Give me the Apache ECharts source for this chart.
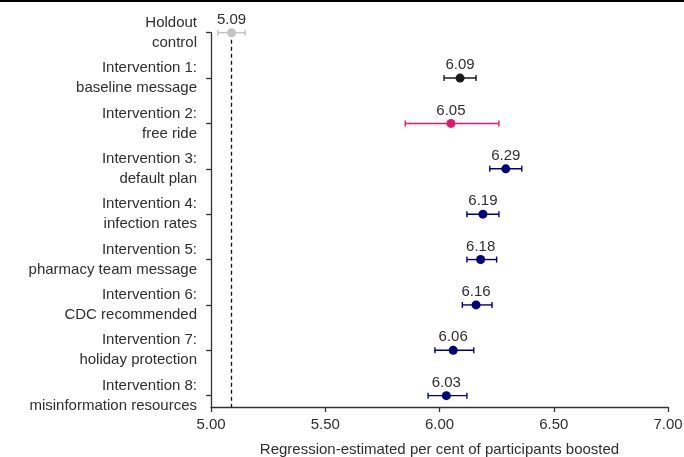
<!DOCTYPE html>
<html>
<head>
<meta charset="utf-8">
<script src="https://cdn.jsdelivr.net/npm/echarts@6/dist/echarts.min.js"></script>
<style>
html,body{margin:0;padding:0;background:#fff;}
#c{width:684px;height:457px;}
</style>
</head>
<body>
<div id="c"></div>
<script>
const categories = [
  'Holdout\ncontrol',
  'Intervention 1:\nbaseline message',
  'Intervention 2:\nfree ride',
  'Intervention 3:\ndefault plan',
  'Intervention 4:\ninfection rates',
  'Intervention 5:\npharmacy team message',
  'Intervention 6:\nCDC recommended',
  'Intervention 7:\nholiday protection',
  'Intervention 8:\nmisinformation resources'
];
const values = [5.09, 6.09, 6.05, 6.29, 6.19, 6.18, 6.16, 6.06, 6.03];
const lowCI  = [5.03, 6.02, 5.85, 6.22, 6.12, 6.12, 6.10, 5.98, 5.95];
const highCI = [5.15, 6.16, 6.26, 6.36, 6.26, 6.25, 6.23, 6.15, 6.12];
const xTicks = [5.00, 5.50, 6.00, 6.50, 7.00];
const referenceValue = 5.09;

function colorFor(i) {
  if (i === 0) return '#c4c4c4';
  if (i === 1) return '#1a1a1a';
  if (i === 2) return '#e2186f';
  return '#00007f';
}

const FONT = 'Liberation Sans, Arial, Helvetica, sans-serif';
const TXT = '#2e2e2e';
const yMax = categories.length - 1 + 0.25;

const chart = echarts.init(document.getElementById('c'), null, {renderer: 'canvas'});

const errData = values.map((v, i) => [lowCI[i], highCI[i], i]);
const ptData = values.map((v, i) => ({
  value: [v, i],
  itemStyle: {color: colorFor(i), opacity: 1}
}));

chart.setOption({
  animation: false,
  backgroundColor: '#fff',
  textStyle: {fontFamily: FONT},
  graphic: [{
    type: 'line',
    shape: {x1: 0, y1: 1, x2: 684, y2: 1},
    style: {stroke: '#000', lineWidth: 2}
  }],
  grid: {left: 211, right: 16, top: 32.7, bottom: 50, containLabel: false, outerBoundsMode: 'none'},
  xAxis: {
    type: 'value',
    position: 'bottom',
    min: 5, max: 7, interval: 0.5,
    splitLine: {show: false},
    axisLine: {show: true, onZero: false, lineStyle: {color: '#333', width: 1.3}},
    axisTick: {show: true, length: 5, lineStyle: {color: '#333', width: 1.3}},
    axisLabel: {
      fontSize: 15, color: TXT, fontFamily: FONT, margin: 10,
      formatter: v => xTicks.find(t => Math.abs(t - v) < 1e-9) !== undefined ? v.toFixed(2) : ''
    },
    name: 'Regression-estimated per cent of participants boosted',
    nameLocation: 'middle',
    nameGap: 35,
    nameTextStyle: {fontSize: 15, color: TXT, fontFamily: FONT}
  },
  yAxis: {
    type: 'value',
    position: 'left',
    inverse: true,
    min: 0, max: yMax,
    splitLine: {show: false},
    axisLine: {show: true, onZero: false, lineStyle: {color: '#333', width: 1.3}},
    axisTick: {
      show: true, length: 5, inside: false,
      customValues: categories.map((c, i) => i),
      lineStyle: {color: '#333', width: 1.3}
    },
    axisLabel: {
      show: true,
      customValues: categories.map((c, i) => i),
      formatter: v => categories[Math.round(v)] || '',
      fontSize: 15, color: TXT, fontFamily: FONT,
      lineHeight: 20, align: 'right', margin: 14, padding: [2, 0, 0, 0]
    }
  },
  series: [
    {
      type: 'custom',
      z: 3,
      data: errData,
      encode: {x: [0, 1], y: 2},
      renderItem: function (params, api) {
        const i = api.value(2);
        const p1 = api.coord([api.value(0), i]);
        const p2 = api.coord([api.value(1), i]);
        const c = colorFor(i);
        const h = 3;
        const st = {stroke: c, lineWidth: 1.4};
        return {
          type: 'group',
          children: [
            {type: 'line', shape: {x1: p1[0], y1: p1[1], x2: p2[0], y2: p2[1]}, style: st},
            {type: 'line', shape: {x1: p1[0], y1: p1[1] - h, x2: p1[0], y2: p1[1] + h}, style: st},
            {type: 'line', shape: {x1: p2[0], y1: p2[1] - h, x2: p2[0], y2: p2[1] + h}, style: st}
          ]
        };
      }
    },
    {
      type: 'scatter',
      z: 4,
      symbol: 'circle',
      symbolSize: 9,
      data: ptData,
      label: {
        show: true, position: 'top', distance: 1,
        fontSize: 15, color: TXT, fontFamily: FONT,
        formatter: p => p.value[0].toFixed(2)
      },
      markLine: {
        silent: true,
        symbol: 'none',
        z: 2,
        label: {show: false},
        lineStyle: {color: '#111', type: [4, 3], width: 1.3},
        data: [[{coord: [referenceValue, 0]}, {coord: [referenceValue, yMax]}]]
      }
    }
  ]
});
</script>
</body>
</html>
